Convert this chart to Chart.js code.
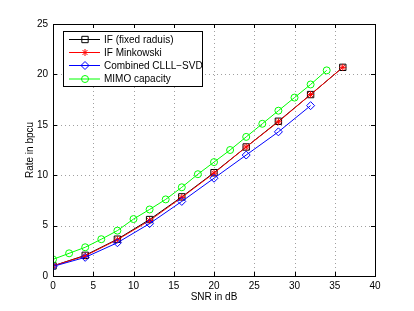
<!DOCTYPE html>
<html>
<head>
<meta charset="utf-8">
<script src="https://cdn.jsdelivr.net/npm/chart.js@4/dist/chart.umd.min.js"></script>
<style>
  html, body { margin: 0; padding: 0; background: #fff; }
  canvas { display: block; }
</style>
</head>
<body>
<canvas id="myChart" width="414" height="311"></canvas>
<script>
const snrIF = [0, 4, 8, 12, 16, 20, 24, 28, 32, 36];
const rateFixed = [1.0, 2.05, 3.65, 5.6, 7.85, 10.25, 12.8, 15.35, 18.0, 20.7];
const rateMinkowski = [1.0, 2.0, 3.6, 5.5, 7.8, 10.2, 12.8, 15.3, 18.0, 20.7];
const snrSVD = [0, 4, 8, 12, 16, 20, 24, 28, 32];
const rateSVD = [0.95, 1.85, 3.3, 5.2, 7.4, 9.7, 12.0, 14.3, 16.9];
const snrMIMO = [0, 2, 4, 6, 8, 10, 12, 14, 16, 18, 20, 22, 24, 26, 28, 30, 32, 34];
const rateMIMO = [1.65, 2.25, 2.85, 3.65, 4.5, 5.65, 6.6, 7.6, 8.8, 10.1, 11.3, 12.5, 13.8, 15.1, 16.4, 17.7, 19.0, 20.4];
const legendLabels = ["IF (fixed raduis)", "IF Minkowski", "Combined CLLL\u2212SVD", "MIMO capacity"];

const FONT = "'Liberation Sans', Arial, sans-serif";
const pts = (xs, ys) => xs.map((x, i) => ({ x: x, y: ys[i] }));

const datasets = [
    {
        data: pts(snrIF, rateFixed),
        borderColor: "#000000",
        pointStyle: "rect",
        pointRadius: 4.5,
        pointBackgroundColor: "rgba(0,0,0,0)",
        pointBorderColor: "#000000",
        order: 4,
    },
    {
        data: pts(snrIF, rateMinkowski),
        borderColor: "#ff0000",
        pointStyle: "star",
        pointRadius: 3.5,
        pointBorderColor: "#ff0000",
        order: 3,
    },
    {
        data: pts(snrSVD, rateSVD),
        borderColor: "#0000ff",
        pointStyle: "rectRot",
        pointRadius: 4,
        pointBackgroundColor: "rgba(0,0,0,0)",
        pointBorderColor: "#0000ff",
        order: 2,
    },
    {
        data: pts(snrMIMO, rateMIMO),
        borderColor: "#00ff00",
        pointStyle: "circle",
        pointRadius: 3.5,
        pointBackgroundColor: "rgba(0,0,0,0)",
        pointBorderColor: "#00ff00",
        order: 1,
    },
];
datasets.forEach((d, i) => {
    d.label = legendLabels[i];
    d.borderWidth = 1;
    d.pointBorderWidth = 1;
    d.pointHoverRadius = d.pointRadius;
    d.fill = false;
    d.tension = 0;
});

// dotted grid drawn under the data
const dottedGrid = {
    id: "dottedGrid",
    beforeDatasetsDraw(chart) {
        const ctx = chart.ctx;
        const a = chart.chartArea;
        const xs = chart.scales.x, ys = chart.scales.y;
        ctx.save();
        ctx.strokeStyle = "#a0a0a0";
        ctx.lineWidth = 1;
        ctx.setLineDash([1, 3]);
        ctx.beginPath();
        xs.ticks.forEach(t => {
            const px = Math.round(xs.getPixelForValue(t.value)) + 0.5;
            ctx.moveTo(px, a.bottom); ctx.lineTo(px, a.top);
        });
        ys.ticks.forEach(t => {
            const py = Math.round(ys.getPixelForValue(t.value)) + 0.5;
            ctx.moveTo(a.left, py); ctx.lineTo(a.right, py);
        });
        ctx.stroke();
        ctx.restore();
    },
};

// box, inward ticks, legend like matlab
const matlabAxes = {
    id: "matlabAxes",
    afterDraw(chart) {
        const ctx = chart.ctx;
        const a = chart.chartArea;
        const xs = chart.scales.x, ys = chart.scales.y;
        ctx.save();
        ctx.strokeStyle = "#000";
        ctx.lineWidth = 1;
        ctx.beginPath();
        xs.ticks.forEach(t => {
            const px = Math.round(xs.getPixelForValue(t.value)) + 0.5;
            ctx.moveTo(px, a.bottom); ctx.lineTo(px, a.bottom - 4);
            ctx.moveTo(px, a.top); ctx.lineTo(px, a.top + 4);
        });
        ys.ticks.forEach(t => {
            const py = Math.round(ys.getPixelForValue(t.value)) + 0.5;
            ctx.moveTo(a.left, py); ctx.lineTo(a.left + 4, py);
            ctx.moveTo(a.right, py); ctx.lineTo(a.right - 4, py);
        });
        ctx.stroke();
        ctx.strokeRect(Math.round(a.left) + 0.5, Math.round(a.top) + 0.5,
            Math.round(a.right - a.left), Math.round(a.bottom - a.top));

        // legend
        const bx = 63.5, by = 31.5, bw = 139, bh = 55;
        ctx.fillStyle = "#fff";
        ctx.fillRect(bx, by, bw, bh);
        ctx.strokeRect(bx, by, bw, bh);
        ctx.font = "10px " + FONT;
        ctx.textBaseline = "middle";
        const rows = [39.5, 52.5, 65.5, 79];
        datasets.forEach((d, i) => {
            const y = rows[i];
            ctx.strokeStyle = d.borderColor;
            ctx.beginPath();
            ctx.moveTo(69, y); ctx.lineTo(100, y);
            ctx.stroke();
            ctx.fillStyle = d.pointBackgroundColor || d.borderColor;
            Chart.helpers.drawPoint(ctx, {
                pointStyle: d.pointStyle, radius: d.pointRadius, rotation: 0, borderWidth: 1
            }, 85, y);
            ctx.fillStyle = "#000";
            ctx.fillText(legendLabels[i], 104, y + 0.5);
        });
        ctx.restore();
    },
};

new Chart("myChart", {
    type: "line",
    data: { datasets: datasets },
    plugins: [dottedGrid, matlabAxes],
    options: {
        responsive: false,
        animation: false,
        layout: { padding: { top: 24, right: 39, left: 0, bottom: 0 } },
        plugins: { legend: { display: false }, tooltip: { enabled: false } },
        scales: {
            x: {
                type: "linear",
                min: 0,
                max: 40,
                afterFit: s => { s.height = 35; },
                ticks: { stepSize: 5, color: "#000", padding: 4, font: { family: FONT, size: 10 }, maxRotation: 0 },
                grid: { display: false, drawTicks: false },
                border: { display: false },
                title: { display: true, text: "SNR in dB", color: "#000", font: { family: FONT, size: 10 }, padding: { top: 0, bottom: 8 } },
            },
            y: {
                type: "linear",
                min: 0,
                max: 25,
                afterFit: s => { s.width = 53; },
                ticks: { stepSize: 5, color: "#000", padding: 5, font: { family: FONT, size: 10 } },
                grid: { display: false, drawTicks: false },
                border: { display: false },
                title: { display: true, text: "Rate in bpcu", color: "#000", font: { family: FONT, size: 10 }, padding: { top: 24, bottom: 0 } },
            },
        },
    },
});
</script>
</body>
</html>
